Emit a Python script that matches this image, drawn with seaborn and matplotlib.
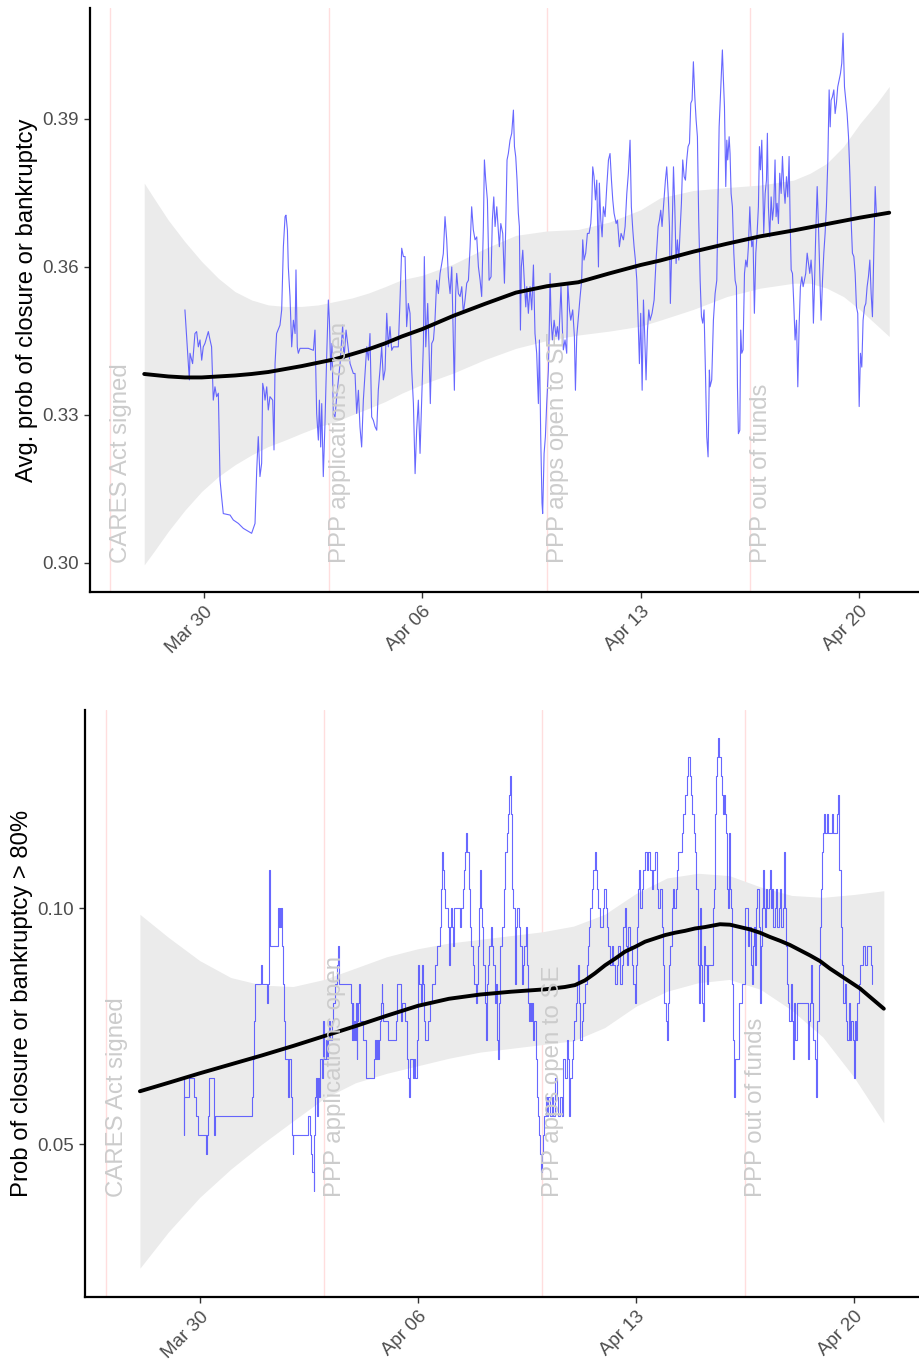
import numpy as np
import pandas as pd
import matplotlib
matplotlib.use("Agg")
import matplotlib.pyplot as plt
import matplotlib.dates as mdates
import seaborn as sns

# ---------------- data (hours since 2020-03-29 00:00) ----------------
base = pd.Timestamp("2020-03-29")

top_hours = [
    9.5, 12.9, 13.4, 15.4, 17.2, 18.5, 19.8, 21.1, 22.4, 23.6, 24.9, 27.5, 28.8, 30.0, 31.3, 32.6, 33.9, 35.2,
    36.5, 37.7, 39.0, 44.2, 46.7, 50.6, 54.4, 60.8, 63.4, 64.7, 65.9, 67.2, 68.5, 69.3, 70.3, 71.1, 72.4, 73.6,
    74.9, 77.0, 78.0, 78.8, 80.0, 82.6, 83.9, 85.2, 86.5, 87.2, 88.3, 89.0, 90.3, 91.6, 92.9, 94.2, 94.9, 95.9,
    96.7, 98.0, 104.4, 108.3, 109.5, 110.8, 112.1, 112.9, 113.9, 114.7, 115.9, 117.2, 118.5, 119.8, 120.6, 121.6,
    122.6, 123.6, 124.9, 126.2, 128.8, 130.8, 131.8, 133.4, 136.5, 139.0,
    140.3, 141.6, 142.9, 144.1, 145.4, 146.7, 148.0, 149.3, 150.6, 151.8, 153.1, 154.4, 155.7, 157.0, 158.2,
    159.5, 160.8, 162.1, 163.4, 164.7, 165.9, 167.2, 168.5, 169.8, 173.6, 174.9, 176.2, 177.5, 178.8, 180.0,
    181.3, 182.6, 183.9, 185.2, 186.5, 187.7, 189.0, 190.3, 191.6, 192.9, 193.6, 194.7, 196.2, 197.2, 198.2,
    199.3, 200.6, 201.8, 203.1, 204.4, 205.7, 207.0, 208.2, 209.5, 210.8, 212.1, 213.4, 214.7, 215.9, 216.7,
    217.7, 218.5, 219.8, 221.1, 222.4, 223.6, 224.9, 226.2, 227.5, 228.8, 230.0, 231.3, 232.6, 233.9, 235.2,
    236.5, 237.7, 239.0, 239.8, 240.8, 242.1, 243.4, 244.9, 245.9, 247.0, 248.0, 249.3, 250.6, 251.3, 252.4,
    253.9, 255.2, 256.2, 257.2, 258.2, 259.5, 260.8, 262.1, 262.9, 263.9, 264.9, 265.9, 266.7, 267.5, 268.2,
    269.3, 270.3, 271.6, 272.4, 273.6,
    274.9, 276.2, 277.5, 278.7, 280.0, 281.3, 282.1, 283.1, 284.1, 284.6, 285.7, 286.7, 287.7, 289.0, 289.8,
    290.3, 291.1, 292.1, 293.4, 294.9, 295.9, 297.0, 298.0, 298.7, 299.8, 300.5, 301.8, 303.1, 303.9, 305.2,
    306.2, 307.7, 309.0, 309.8, 310.8, 312.1, 313.4, 314.6, 315.4, 316.4, 317.7, 319.0, 320.3, 321.6, 322.3,
    323.1, 324.1, 325.2, 326.2, 327.5, 328.2, 329.3, 330.3, 331.3, 332.6, 333.9, 335.2, 336.4, 337.5, 338.5,
    339.5, 341.1, 342.1, 343.6, 344.9, 346.7, 348.0, 349.3, 350.5, 351.8, 352.8, 353.9, 354.9, 355.9, 357.0,
    358.0, 359.0, 360.0, 361.1, 362.1, 363.1, 364.1, 365.2, 366.2, 367.2, 368.7, 370.3, 371.8, 373.4, 374.4,
    375.4, 376.4, 377.5, 379.0, 380.0, 381.1, 382.1, 382.8, 383.9, 385.2, 386.2, 387.2, 388.2, 389.3, 390.3,
    391.3, 392.3, 393.4, 394.4, 395.4, 396.4, 397.5, 398.5, 399.5, 400.5, 401.6, 402.6, 403.6, 404.6, 405.7,
    406.7, 407.7, 408.7, 409.8, 410.8, 411.8, 412.8,
    413.3, 414.6, 415.9, 417.2, 418.5, 419.2, 420.3, 421.8, 422.8, 423.6, 424.4, 425.4, 426.2, 426.9, 428.0,
    428.7, 429.5, 430.5, 431.6, 432.6, 433.6, 434.4, 435.1, 436.2, 436.9, 437.7, 438.7, 439.8, 440.8, 441.8,
    442.8, 443.9, 444.6, 445.4, 446.4, 447.4, 448.5, 449.5, 450.5, 451.3, 452.1, 453.1, 453.9, 454.6, 455.7,
    456.7, 457.4, 458.2, 459.2, 460.3, 461.3, 462.3, 463.3, 464.1, 464.9, 465.9, 466.9, 468.0, 469.0, 470.0,
    471.0, 472.1, 473.1, 474.1, 474.9, 475.7, 476.7, 477.7, 478.7, 479.8, 480.8, 481.8, 482.8, 483.9, 484.9,
    485.9, 486.9, 488.0, 489.0, 490.0, 491.0, 492.1, 492.8, 493.6, 494.6, 495.7, 496.7, 497.7, 498.7, 499.8,
    500.8, 501.8, 502.8, 503.9, 504.9, 505.7, 506.4, 507.4, 508.5, 509.5, 510.5, 511.5, 512.6, 513.6, 514.6,
    515.6, 516.7, 517.7, 518.7, 519.8, 520.8, 521.8, 522.8, 523.9, 524.9, 525.9, 526.9, 528.0, 529.0, 530.0,
    531.0, 532.1, 533.1, 534.1, 535.1, 536.2, 537.2, 538.2, 539.2, 540.3, 541.3,
]
avg_prob = [
    0.3513, 0.3371, 0.3425, 0.3404, 0.3465, 0.3469, 0.3438, 0.3452, 0.3411, 0.3438, 0.3445, 0.3469, 0.3452, 0.3438,
    0.3330, 0.3357, 0.3337, 0.3344, 0.3168, 0.3134, 0.3100, 0.3097, 0.3087, 0.3080, 0.3070, 0.3060, 0.3080, 0.3188,
    0.3256, 0.3175, 0.3202, 0.3364, 0.3350, 0.3330, 0.3357, 0.3310, 0.3337, 0.3330, 0.3229, 0.3404, 0.3465, 0.3482,
    0.3513, 0.3641, 0.3702, 0.3705, 0.3675, 0.3600, 0.3540, 0.3438, 0.3492, 0.3465, 0.3594, 0.3438, 0.3425, 0.3435,
    0.3435, 0.3431, 0.3472, 0.3303, 0.3249, 0.3330, 0.3235, 0.3323, 0.3175, 0.3283, 0.3418, 0.3533, 0.3492, 0.3391,
    0.3445, 0.3303, 0.3296, 0.3337, 0.3404, 0.3482, 0.3411, 0.3472, 0.3404, 0.3384,
    0.3384, 0.3303, 0.3350, 0.3276, 0.3235, 0.3330, 0.3384, 0.3438, 0.3411, 0.3465, 0.3296, 0.3289, 0.3276, 0.3269,
    0.3350, 0.3391, 0.3438, 0.3371, 0.3391, 0.3506, 0.3438, 0.3479, 0.3431, 0.3438, 0.3438, 0.3533, 0.3638, 0.3621,
    0.3621, 0.3479, 0.3526, 0.3506, 0.3391, 0.3323, 0.3181, 0.3269, 0.3330, 0.3222, 0.3330, 0.3445, 0.3621, 0.3438,
    0.3526, 0.3438, 0.3323, 0.3445, 0.3452, 0.3492, 0.3573, 0.3546, 0.3587, 0.3607, 0.3627, 0.3702, 0.3655, 0.3580,
    0.3546, 0.3600, 0.3445, 0.3350, 0.3546, 0.3587, 0.3546, 0.3540, 0.3560, 0.3506, 0.3533, 0.3567, 0.3573, 0.3641,
    0.3722, 0.3675, 0.3655, 0.3661, 0.3600, 0.3573, 0.3540, 0.3682, 0.3817, 0.3776, 0.3736, 0.3573, 0.3580, 0.3695,
    0.3742, 0.3682, 0.3722, 0.3668, 0.3641, 0.3688, 0.3668, 0.3567, 0.3682, 0.3817, 0.3830, 0.3857, 0.3871, 0.3918,
    0.3844, 0.3823, 0.3776, 0.3709, 0.3682, 0.3472, 0.3600, 0.3634, 0.3580, 0.3519, 0.3560, 0.3506,
    0.3560, 0.3513, 0.3604, 0.3465, 0.3425, 0.3323, 0.3452, 0.3256, 0.3121, 0.3100, 0.3222, 0.3256, 0.3323, 0.3391,
    0.3492, 0.3587, 0.3492, 0.3452, 0.3492, 0.3459, 0.3479, 0.3452, 0.3513, 0.3560, 0.3472, 0.3432, 0.3452, 0.3425,
    0.3567, 0.3513, 0.3492, 0.3513, 0.3459, 0.3350, 0.3459, 0.3499, 0.3540, 0.3573, 0.3655, 0.3614, 0.3628, 0.3668,
    0.3668, 0.3688, 0.3722, 0.3803, 0.3783, 0.3736, 0.3776, 0.3600, 0.3770, 0.3695, 0.3661, 0.3722, 0.3702, 0.3763,
    0.3817, 0.3830, 0.3776, 0.3736, 0.3709, 0.3688, 0.3695, 0.3641, 0.3668, 0.3655, 0.3682, 0.3749, 0.3790, 0.3857,
    0.3722, 0.3675, 0.3641, 0.3614, 0.3573, 0.3492, 0.3404, 0.3506, 0.3350, 0.3533, 0.3459, 0.3371, 0.3472, 0.3513,
    0.3492, 0.3506, 0.3533, 0.3614, 0.3682, 0.3695, 0.3715, 0.3682, 0.3722, 0.3776, 0.3803, 0.3749, 0.3682, 0.3526,
    0.3641, 0.3803, 0.3722, 0.3607, 0.3655, 0.3614, 0.3675, 0.3729, 0.3817, 0.3783, 0.3776, 0.3817, 0.3844, 0.3851,
    0.3932, 0.3938, 0.4016, 0.3945, 0.3898, 0.3864, 0.3695, 0.3573, 0.3499, 0.3486, 0.3513, 0.3384, 0.3256, 0.3215,
    0.3391,
    0.3357, 0.3371, 0.3492, 0.3546, 0.3573, 0.3695, 0.3884, 0.3979, 0.4040, 0.3979, 0.3925, 0.3763, 0.3857, 0.3817,
    0.3864, 0.3830, 0.3749, 0.3722, 0.3628, 0.3573, 0.3560, 0.3357, 0.3262, 0.3269, 0.3472, 0.3425, 0.3432, 0.3587,
    0.3614, 0.3600, 0.3641, 0.3722, 0.3675, 0.3641, 0.3655, 0.3506, 0.3628, 0.3668, 0.3722, 0.3844, 0.3797, 0.3857,
    0.3763, 0.3668, 0.3749, 0.3776, 0.3871, 0.3722, 0.3661, 0.3742, 0.3695, 0.3722, 0.3817, 0.3702, 0.3729, 0.3688,
    0.3790, 0.3749, 0.3824, 0.3763, 0.3729, 0.3783, 0.3742, 0.3824, 0.3695, 0.3594, 0.3587, 0.3526, 0.3452, 0.3492,
    0.3357, 0.3479, 0.3560, 0.3580, 0.3560, 0.3573, 0.3587, 0.3628, 0.3607, 0.3587, 0.3614, 0.3573, 0.3486, 0.3560,
    0.3668, 0.3763, 0.3682, 0.3587, 0.3492, 0.3573, 0.3628, 0.3668, 0.3722, 0.3817, 0.3959, 0.3884, 0.3938, 0.3945,
    0.3959, 0.3911, 0.3932, 0.3965, 0.3979, 0.3992, 0.4013, 0.4074, 0.3965, 0.3938, 0.3911, 0.3864, 0.3790, 0.3695,
    0.3628, 0.3621, 0.3587, 0.3519, 0.3506, 0.3317, 0.3425, 0.3397, 0.3492, 0.3519, 0.3526, 0.3560, 0.3580, 0.3614,
    0.3546, 0.3499, 0.3628, 0.3763, 0.3702,
]

bot_hours = [
    10.7, 12.0, 12.3, 15.8, 19.5, 21.0, 22.5, 28.7, 29.6, 30.2, 31.5, 35.1, 35.6, 64.1, 65.0, 65.4, 66.2, 67.0,
    71.3, 72.3, 75.6, 76.4, 77.7, 78.2, 84.6, 85.1, 85.6, 86.2, 86.7, 87.7, 88.5, 89.2, 89.8, 92.3, 93.1, 94.4,
    95.2, 95.7, 96.2, 107.7, 108.8, 109.8, 110.8, 111.8, 112.3, 112.9, 113.9, 114.7, 115.4, 116.2, 117.0, 118.0,
    119.3, 119.8, 121.1, 121.9, 122.6, 123.7, 124.4, 125.7, 127.0, 128.3, 129.8, 130.8, 131.3, 140.6, 141.1,
    141.9, 142.4, 142.9, 143.7, 144.5, 145.0, 145.5, 146.3, 147.0, 147.5, 149.6, 152.2, 158.3, 159.1, 159.9,
    160.4, 161.1, 161.9, 162.9, 163.7, 164.2, 164.7, 165.5, 169.4, 175.0, 175.8, 178.9, 179.6, 182.2, 183.5,
    184.8, 185.5, 186.0, 188.1, 189.4, 190.2, 191.2, 192.0, 192.5, 193.2, 194.3, 195.0, 196.3, 197.1, 197.6,
    200.2, 201.5, 202.7, 205.3, 206.6, 209.1, 209.7, 210.7, 211.2, 212.2, 213.0, 215.1, 215.8, 216.3, 216.9,
    217.6, 218.4, 219.4, 220.2, 224.6, 225.3, 226.6, 227.6, 228.7, 229.4, 230.2, 231.2, 232.3, 233.3, 234.3,
    235.3, 236.9, 237.4, 238.4, 239.2, 239.7, 240.5, 241.2, 242.5, 243.8, 244.6, 245.1, 246.1, 247.1, 248.2,
    248.9, 250.2, 251.2, 252.0, 252.8, 253.6, 254.3, 255.4, 256.6, 258.7, 259.5, 260.5, 261.3, 262.5, 263.1,
    263.8, 264.6, 265.6, 266.6, 267.7, 268.7, 269.7, 270.8, 272.0, 272.8, 273.8,
    274.6, 275.4, 276.2, 276.9, 277.7, 278.5, 279.2, 280.3, 281.0, 281.8, 282.8, 283.6, 284.4, 285.4, 286.2,
    286.9, 288.0, 288.8, 289.5, 290.5, 291.3, 292.6, 293.9, 295.2, 296.5, 297.7, 299.0, 300.3, 301.6, 302.9,
    304.2, 305.4, 306.7, 308.0, 308.8, 309.5, 310.6, 311.9, 312.6, 313.7, 314.4, 315.2, 316.2, 317.2, 318.3,
    319.6, 320.8, 322.1, 322.9, 323.9, 324.9, 326.0, 327.3, 328.3, 329.1, 330.1, 331.1, 332.4, 334.9, 335.7,
    336.8, 337.5, 338.8, 340.1, 341.4, 342.7, 343.9, 345.2, 346.5, 347.8, 349.1, 350.4, 351.6, 352.4, 353.4,
    354.2, 355.5, 356.8, 358.1, 359.3, 360.1, 361.1, 361.9, 362.7, 363.4, 364.5, 365.8, 367.0, 368.3, 369.6,
    370.9, 372.2, 373.5, 374.7, 376.0, 377.3, 378.6, 379.9, 381.2, 381.9, 383.0, 383.7, 384.5, 385.5, 386.5,
    387.6, 388.6, 389.6, 390.7, 391.7, 392.7, 395.3, 396.6, 397.9, 399.1, 400.4, 401.4, 402.5, 403.5, 404.5,
    405.6, 406.6, 407.6, 408.4,
    409.4, 410.2, 410.9, 411.7, 412.5, 413.3, 414.5, 415.8, 419.2, 420.2, 421.0, 421.7, 422.7, 423.5, 424.3,
    425.3, 426.1, 426.9, 427.9, 428.7, 429.4, 429.9, 431.0, 432.0, 432.5, 433.5, 434.3, 435.1, 435.8, 436.6,
    439.7, 441.7, 444.1, 446.6, 447.4, 448.4, 449.2, 450.0, 451.0, 451.8, 452.5, 453.6, 454.6, 455.6, 456.4,
    457.1, 457.9, 458.7, 459.5, 460.2, 461.3, 462.3, 463.3, 464.1, 464.9, 465.9, 466.9, 467.9, 469.0, 470.0,
    471.0, 472.0, 473.1, 473.8, 474.6, 475.4, 476.1, 477.2, 478.2, 479.2, 480.2, 481.0, 481.8, 482.8, 483.8,
    492.3, 493.1, 494.1, 494.9, 495.7, 496.7, 497.7, 498.7, 499.8, 500.8, 501.8, 502.8, 503.6, 504.4, 505.2,
    505.9, 506.9, 508.2, 510.8, 512.1, 514.6, 515.7, 516.7, 517.7, 518.8, 519.8, 520.8, 521.8, 522.9, 523.9,
    524.9, 525.9, 527.0, 527.7, 528.5, 529.5, 530.6, 531.6, 532.6, 534.7, 536.7, 537.8, 540.8, 541.6,
]
high_prob = [
    0.064, 0.052, 0.060, 0.064, 0.060, 0.056, 0.052, 0.048, 0.052, 0.056, 0.064, 0.052, 0.056, 0.060, 0.064, 0.068,
    0.076, 0.084, 0.088, 0.084, 0.080, 0.084, 0.108, 0.092, 0.100, 0.096, 0.100, 0.096, 0.100, 0.092, 0.084, 0.076,
    0.068, 0.060, 0.068, 0.060, 0.052, 0.048, 0.052, 0.056, 0.052, 0.048, 0.044, 0.040, 0.052, 0.060, 0.064, 0.056,
    0.064, 0.060, 0.068, 0.064, 0.076, 0.068, 0.072, 0.068, 0.072, 0.076, 0.072, 0.076, 0.080, 0.084, 0.088, 0.092,
    0.084, 0.080, 0.072,
    0.080, 0.072, 0.076, 0.072, 0.080, 0.068, 0.076, 0.080, 0.084, 0.076, 0.072, 0.064, 0.068, 0.072, 0.068, 0.072,
    0.068, 0.072, 0.076, 0.080, 0.084, 0.080, 0.076, 0.072, 0.076, 0.084, 0.076, 0.080, 0.076, 0.068, 0.064, 0.060,
    0.068, 0.064, 0.068, 0.064, 0.072, 0.076, 0.088, 0.084, 0.080, 0.088, 0.084, 0.076, 0.072, 0.076, 0.080, 0.084,
    0.088, 0.092, 0.096, 0.104, 0.112, 0.108, 0.104, 0.100, 0.096, 0.092, 0.088, 0.096, 0.100, 0.096, 0.092, 0.100,
    0.096, 0.100, 0.104, 0.108, 0.112, 0.116, 0.112, 0.104, 0.096, 0.092, 0.088, 0.084, 0.080, 0.084, 0.092, 0.100,
    0.108, 0.100, 0.096, 0.088, 0.080, 0.072, 0.084, 0.088, 0.092, 0.096, 0.092, 0.088, 0.080, 0.084, 0.072, 0.068,
    0.080, 0.092, 0.096, 0.104, 0.112, 0.116, 0.120, 0.124, 0.128, 0.120, 0.104, 0.100, 0.084, 0.096, 0.100, 0.096,
    0.092, 0.084, 0.088, 0.092,
    0.092, 0.096, 0.088, 0.080, 0.076, 0.080, 0.076, 0.080, 0.072, 0.076, 0.068, 0.060, 0.056, 0.052, 0.048, 0.044,
    0.048, 0.052, 0.056, 0.060, 0.056, 0.060, 0.056, 0.060, 0.056, 0.064, 0.060, 0.056, 0.060, 0.056, 0.068, 0.064,
    0.072, 0.068, 0.056, 0.064, 0.068, 0.072, 0.076, 0.080, 0.084, 0.088, 0.080, 0.072, 0.076, 0.080, 0.084, 0.088,
    0.092, 0.096, 0.100, 0.104, 0.108, 0.112, 0.108, 0.104, 0.100, 0.096, 0.100, 0.104, 0.100, 0.096, 0.092, 0.088,
    0.092, 0.088, 0.084, 0.088, 0.092, 0.084, 0.088, 0.096, 0.100, 0.092, 0.088, 0.096, 0.092, 0.088, 0.084, 0.080,
    0.088, 0.096, 0.104, 0.108, 0.100, 0.104, 0.108, 0.112, 0.108, 0.112, 0.108, 0.104, 0.108, 0.112, 0.104, 0.100,
    0.104, 0.096, 0.088, 0.080, 0.076, 0.072, 0.080, 0.088, 0.092, 0.100, 0.104, 0.100, 0.104, 0.108, 0.112, 0.116,
    0.120, 0.124, 0.128, 0.132, 0.128, 0.124, 0.120, 0.116, 0.112, 0.104, 0.088, 0.080,
    0.100, 0.088, 0.080, 0.076, 0.092, 0.088, 0.084, 0.088, 0.100, 0.104, 0.120, 0.128, 0.132, 0.136, 0.132, 0.128,
    0.124, 0.120, 0.124, 0.120, 0.116, 0.104, 0.100, 0.116, 0.104, 0.100, 0.084, 0.072, 0.060, 0.068, 0.080, 0.084,
    0.100, 0.092, 0.096, 0.088, 0.084, 0.092, 0.096, 0.088, 0.100, 0.104, 0.096, 0.080, 0.092, 0.100, 0.108, 0.100,
    0.096, 0.104, 0.100, 0.104, 0.108, 0.100, 0.104, 0.096, 0.100, 0.104, 0.096, 0.100, 0.104, 0.096, 0.100, 0.112,
    0.100, 0.092, 0.084, 0.080, 0.076, 0.084, 0.076, 0.068, 0.080, 0.072, 0.080, 0.068, 0.076, 0.080, 0.088, 0.080,
    0.072, 0.068, 0.060, 0.076, 0.088, 0.096, 0.104, 0.112, 0.116, 0.120, 0.116, 0.120, 0.116, 0.120, 0.116, 0.120,
    0.124, 0.108, 0.096, 0.088, 0.080, 0.084, 0.076, 0.072, 0.080, 0.072, 0.076, 0.072, 0.064, 0.076, 0.072, 0.080,
    0.084, 0.088, 0.092, 0.088, 0.092, 0.088, 0.084,
]

# smooth fit (loess) and confidence band
top_fit_hours = [-21.8, -3.3, 9.5, 22.4, 35.2, 48.0, 60.8, 73.6, 86.5, 99.3, 112.1, 124.9, 137.8, 150.5, 163.4,
                 176.2, 192, 216, 240, 264, 288, 312, 336, 360, 374.9, 400.5, 426.2, 451.8, 477.5, 503.1, 528.7,
                 551.1]
top_fit = [0.3383, 0.3378, 0.3376, 0.3376, 0.3378, 0.3380, 0.3383, 0.3387, 0.3393, 0.3399, 0.3406, 0.3413, 0.3423,
           0.3433, 0.3445, 0.3459, 0.3474, 0.3501, 0.3525, 0.3548, 0.3561, 0.3569, 0.3587, 0.3604, 0.3613, 0.3631,
           0.3647, 0.3662, 0.3674, 0.3687, 0.3700, 0.3710]
top_band_hours = [-21.8, -13.5, -3.3, 9.5, 22.4, 35.2, 48.0, 60.8, 73.6, 86.5, 99.3, 112.1, 124.9, 137.8, 150.5,
                  163.4, 176.2, 192, 216, 240, 264, 288, 312, 336, 360, 374.9, 400.5, 426.2, 451.8, 477.5, 490.3,
                  503.1, 515.9, 528.7, 541.6, 551.1]
top_hi = [0.3770, 0.3736, 0.3695, 0.3651, 0.3611, 0.3577, 0.3550, 0.3533, 0.3523, 0.3520, 0.3520, 0.3523, 0.3530,
          0.3537, 0.3547, 0.3560, 0.3574, 0.3583, 0.3606, 0.3637, 0.3664, 0.3673, 0.3676, 0.3691, 0.3716, 0.3740,
          0.3755, 0.3761, 0.3766, 0.3776, 0.3790, 0.3810, 0.3844, 0.3891, 0.3932, 0.3966]
top_lo = [0.2996, 0.3026, 0.3064, 0.3107, 0.3145, 0.3175, 0.3199, 0.3219, 0.3236, 0.3249, 0.3263, 0.3276, 0.3286,
          0.3300, 0.3313, 0.3327, 0.3344, 0.3362, 0.3385, 0.3412, 0.3435, 0.3451, 0.3462, 0.3470, 0.3480, 0.3492,
          0.3514, 0.3540, 0.3557, 0.3567, 0.3567, 0.3557, 0.3540, 0.3513, 0.3482, 0.3459]

bot_fit_hours = [-22, 0, 24, 48, 72, 96, 120, 144, 168, 192, 216, 240, 264, 290.0, 305.4, 313.1, 320.8, 328.5,
                 336.3, 344.0, 351.7, 359.4, 367.1, 374.8, 382.5, 390.2, 397.9, 405.6, 413.3, 424.8, 432.5, 440.2,
                 447.9, 455.6, 463.3, 471.0, 478.7, 486.4, 494.1, 501.8, 509.5, 517.2, 524.9, 532.6, 540.3, 551]
bot_fit = [0.0612, 0.0630, 0.0650, 0.0669, 0.0688, 0.0708, 0.0729, 0.0750, 0.0772, 0.0793, 0.0808, 0.0817, 0.0823,
           0.0828, 0.0833, 0.0837, 0.0847, 0.0862, 0.0879, 0.0893, 0.0908, 0.0918, 0.0929, 0.0936, 0.0943, 0.0948,
           0.0952, 0.0957, 0.0960, 0.0966, 0.0965, 0.0960, 0.0955, 0.0948, 0.0939, 0.0931, 0.0922, 0.0911, 0.0900,
           0.0888, 0.0872, 0.0858, 0.0844, 0.0830, 0.0812, 0.0787]
bot_band_hours = [-22, 0, 24, 48, 72, 96, 120, 144, 168, 192, 216, 240, 264, 288, 312, 336, 360, 384, 408,
                  432, 456, 480, 504, 528, 551]
bot_hi = [0.0987, 0.0938, 0.0889, 0.0853, 0.0837, 0.0834, 0.0849, 0.0873, 0.0897, 0.0914, 0.0926, 0.0934,
          0.0942, 0.0950, 0.0962, 0.0987, 0.1031, 0.1064, 0.1074, 0.1069, 0.1045, 0.1027, 0.1023, 0.1029, 0.1037]
bot_lo = [0.0237, 0.0314, 0.0387, 0.0447, 0.0500, 0.0549, 0.0597, 0.0630, 0.0650, 0.0666, 0.0682, 0.0695,
          0.0703, 0.0711, 0.0719, 0.0747, 0.0792, 0.0824, 0.0842, 0.0849, 0.0828, 0.0784, 0.0727, 0.0642, 0.0545]

event_dates = ["2020-03-27 00:00", "2020-04-03 00:00", "2020-04-10 00:00", "2020-04-16 12:00"]
event_labels = ["CARES Act signed", "PPP applications open", "PPP apps open to SE", "PPP out of funds"]

xtick_dates = ["2020-03-30", "2020-04-06", "2020-04-13", "2020-04-20"]
top_yticks = [0.30, 0.33, 0.36, 0.39]
bot_yticks = [0.05, 0.10]
top_ylabel = "Avg. prob of closure or bankruptcy"
bot_ylabel = "Prob of closure or bankruptcy > 80%"

# ---------------- styling ----------------
sns.set_style("ticks")
plt.rcParams["font.family"] = ["Liberation Sans", "DejaVu Sans"]

def to_time(hours):
    return base + pd.to_timedelta(np.asarray(hours, dtype=float), unit="h")

fig = plt.figure(figsize=(9.19, 13.61), dpi=100)
ax_top = fig.add_axes([90 / 919, 1 - 592 / 1361, 829 / 919, 584 / 1361])
ax_bot = fig.add_axes([85 / 919, 1 - 1297 / 1361, 834 / 919, 587 / 1361])

panels = [
    (ax_top, top_hours, avg_prob, "default", top_fit_hours, top_fit, top_band_hours, top_lo, top_hi,
     top_yticks, top_ylabel, (0.2941, 0.4125), (-63.5, 574.0), 0.30),
    (ax_bot, bot_hours, high_prob, "steps-post", bot_fit_hours, bot_fit, bot_band_hours, bot_lo, bot_hi,
     bot_yticks, bot_ylabel, (0.0176, 0.1420), (-64.3, 578.1), 0.0387),
]

for (ax, hrs, vals, dstyle, fh, fit, bh, lo, hi, yt, ylab, ylim, xlim, ytext) in panels:
    for d in event_dates:
        ax.axvline(pd.Timestamp(d), color="#ffdede", lw=1.0, zorder=1)
    ax.fill_between(to_time(bh), lo, hi, color="#ebebeb", lw=0, zorder=2)
    sns.lineplot(x=to_time(hrs), y=vals, ax=ax, color="#4d4dff", alpha=0.85, lw=0.8,
                 drawstyle=dstyle, estimator=None, sort=False, zorder=3)
    sns.lineplot(x=to_time(fh), y=fit, ax=ax, color="black", lw=2.8, estimator=None, sort=False, zorder=4)
    for d, lab in zip(event_dates, event_labels):
        ax.text(pd.Timestamp(d), ytext, lab, rotation=90, ha="left", va="bottom",
                color="#cccccc", fontsize=17.3, zorder=5)
    ax.set_ylim(*ylim)
    ax.set_xlim(to_time([xlim[0]])[0], to_time([xlim[1]])[0])
    ax.set_yticks(yt)
    ax.set_yticklabels(["%.2f" % v for v in yt])
    ax.set_xticks([pd.Timestamp(t) for t in xtick_dates])
    ax.xaxis.set_major_formatter(mdates.DateFormatter("%b %d"))
    ax.set_xlabel("")
    ax.set_ylabel(ylab, fontsize=17.2, color="black", labelpad=3)
    ax.tick_params(axis="both", labelsize=13.5, colors="#333333", labelcolor="#4d4d4d",
                   length=4.5, width=1.0, direction="out")
    for lbl in ax.get_xticklabels():
        lbl.set_rotation(45)
        lbl.set_ha("right")
        lbl.set_va("top")
        lbl.set_rotation_mode("anchor")
    sns.despine(ax=ax)
    for sp in ("left", "bottom"):
        ax.spines[sp].set_linewidth(1.6)
        ax.spines[sp].set_color("black")
    ax.grid(False)

fig.savefig("out.png", dpi=100)
